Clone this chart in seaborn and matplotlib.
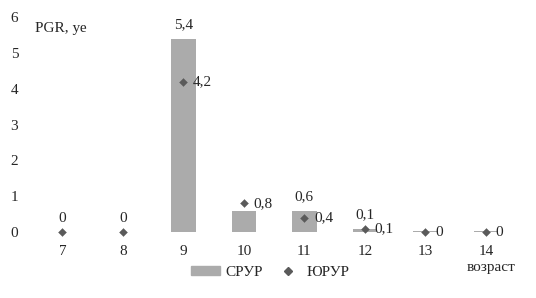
import matplotlib
matplotlib.use("Agg")
import matplotlib.pyplot as plt
import seaborn as sns
import pandas as pd
from matplotlib.lines import Line2D
from matplotlib.patches import Patch

ages = ["7", "8", "9", "10", "11", "12", "13", "14"]
srur = [0.0, 0.0, 5.4, 0.6, 0.6, 0.1, 0.02, 0.02]
yurur = [0.0, 0.0, 4.2, 0.8, 0.4, 0.1, 0.0, 0.0]
srur_labels = ["0", "0", "5,4", "", "0,6", "0,1", "", ""]
yurur_labels = ["", "", "4,2", "0,8", "0,4", "0,1", "0", "0"]
yticks = [0, 1, 2, 3, 4, 5, 6]

sns.set_theme(style="white")
plt.rcParams["font.family"] = ["Liberation Serif", "DejaVu Serif"]

bar_color = "#ababab"
pt_color = "#5a5a5a"
fs = 11

df = pd.DataFrame({"age": ages, "srur": srur, "yurur": yurur})

fig = plt.figure(figsize=(5.36, 2.98), dpi=100)
ax = fig.add_axes([0.06, 0.221, 0.903, 0.722])

sns.barplot(data=df, x="age", y="srur", color=bar_color, width=0.4,
            saturation=1, ax=ax, linewidth=0)
sns.scatterplot(data=df, x="age", y="yurur", marker="D", s=16,
                color=pt_color, edgecolor=pt_color, ax=ax, zorder=5,
                clip_on=False)

ax.set_ylim(0, 6)
ax.set_xlim(-0.5, 7.5)
ax.set_yticks(yticks)
ax.set_yticklabels([str(v) for v in yticks], fontsize=fs)
ax.tick_params(axis="y", pad=10, length=0)
ax.tick_params(axis="x", pad=9, length=0, labelsize=fs)
ax.set_xlabel("")
ax.set_ylabel("")
for s in ax.spines.values():
    s.set_visible(False)

for i, (v, lab) in enumerate(zip(srur, srur_labels)):
    if lab:
        ax.annotate(lab, (i, v), xytext=(0, 5), textcoords="offset points",
                    ha="center", va="bottom", fontsize=fs)
for i, (v, lab) in enumerate(zip(yurur, yurur_labels)):
    if lab:
        ax.annotate(lab, (i, v), xytext=(7, 0), textcoords="offset points",
                    ha="left", va="center", fontsize=fs)

fig.text(0.066, 0.905, "PGR, уе", fontsize=fs, ha="left", va="center")
fig.text(0.962, 0.102, "возраст", fontsize=fs, ha="right", va="center")

handles = [Patch(color=bar_color, label="СРУР"),
           Line2D([0], [0], marker="D", color="none", markerfacecolor=pt_color,
                  markeredgecolor=pt_color, markersize=4, label="ЮРУР")]
fig.legend(handles=handles, loc="center", bbox_to_anchor=(0.505, 0.085),
           ncol=2, frameon=False, fontsize=fs, handlelength=1.9,
           handleheight=0.5, columnspacing=0.7, handletextpad=0.3)

fig.savefig("out.png", dpi=100)
